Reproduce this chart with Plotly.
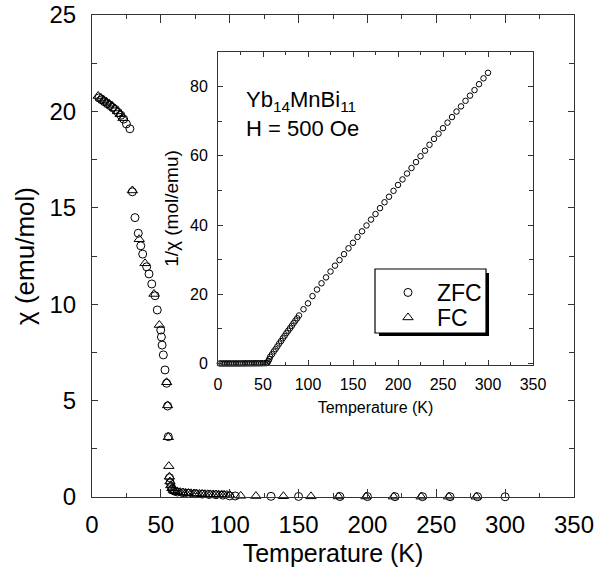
import plotly.graph_objects as go

# ---------------- data ----------------
# main panel: chi vs T
zfc_T = [5, 7, 9, 11, 13, 15, 17, 19, 21, 23, 25, 27.5,
         29.3, 31.2, 33.6, 35.4, 36.8, 39.7, 41.4, 43.4, 45.8, 47.4,
         49.9, 50.4, 50.9, 51.8, 53.0, 54.2, 54.9, 55.4,
         56.3, 56.8, 57.5, 58.5, 60, 62, 66, 70, 75, 80, 85, 90, 95,
         100, 104, 130, 150, 180, 200, 220, 240, 260, 280, 300]
zfc_chi = [20.7, 20.6, 20.5, 20.4, 20.3, 20.2, 20.1, 19.95, 19.8, 19.6, 19.35, 19.1,
           15.83, 14.49, 13.68, 13.03, 12.60, 11.94, 11.57, 11.05, 10.44, 9.70,
           8.66, 8.30, 7.88, 7.37, 6.59, 5.90, 4.72, 3.13,
           1.0, 0.75, 0.55, 0.4, 0.3, 0.26, 0.22, 0.19, 0.17, 0.15, 0.13, 0.12, 0.1,
           0.057, 0.054, 0.036, 0.029, 0.023, 0.020, 0.017, 0.016, 0.014, 0.013, 0.012]

fc_T = [4.5, 6.5, 8.5, 10.5, 12.5, 14.5, 16.5, 18.5, 20.5, 22.5,
        29.3, 34.3, 38.5, 45.0, 48.9, 54.2, 54.9, 55.4,
        55.8, 56.2, 56.6, 57.2, 58, 59, 60, 62, 64, 66, 68, 70, 72, 74, 76, 78,
        80, 82, 84, 86, 88, 90, 92, 94, 96, 98, 100,
        108, 119, 139, 159, 179, 199, 219, 239, 259, 279]
fc_chi = [20.8, 20.7, 20.6, 20.5, 20.4, 20.3, 20.15, 20.0, 19.85, 19.65,
          15.9, 13.37, 12.12, 10.53, 8.92, 5.95, 4.75, 3.1,
          1.6, 1.05, 0.8, 0.6, 0.45, 0.36, 0.3, 0.27, 0.25, 0.23, 0.21, 0.2, 0.19, 0.18, 0.17, 0.16,
          0.15, 0.145, 0.14, 0.135, 0.13, 0.125, 0.12, 0.115, 0.11, 0.105, 0.1,
          0.06, 0.05, 0.04, 0.033, 0.028, 0.024, 0.021, 0.019, 0.017, 0.015]

# inset: 1/chi vs T (ZFC)
inv_T = [2, 4, 6, 8, 10, 12, 14, 16, 18, 20, 22, 24, 26, 28, 30, 32, 34, 36, 38, 40,
         42, 44, 46, 48, 50, 52, 54, 55, 56, 57, 58, 60, 62, 64, 66, 68, 70, 72, 74, 76,
         78, 80, 82, 84, 86, 88, 90, 95, 100, 105, 110, 115, 120, 125, 130, 135, 140,
         145, 150, 155, 160, 165, 170, 175, 180, 185, 190, 195, 200, 205, 210, 215, 220,
         225, 230, 235, 240, 245, 250, 255, 260, 265, 270, 275, 280, 285, 290, 295, 300]
inv_chi = [0.048, 0.048, 0.049, 0.049, 0.049, 0.049, 0.050, 0.050, 0.050, 0.051, 0.051,
           0.052, 0.052, 0.060, 0.066, 0.072, 0.075, 0.079, 0.083, 0.085, 0.088, 0.092,
           0.097, 0.104, 0.115, 0.13, 0.17, 0.3, 0.8, 1.3, 2.0, 2.7, 3.5, 4.2, 5.0, 5.8,
           6.5, 7.3, 8.0, 8.8, 9.5, 10.2, 10.9, 11.7, 12.4, 13.1, 13.9, 15.7, 17.4, 19.5,
           21.4, 23.2, 24.9, 26.6, 28.3, 29.9, 31.6, 33.3, 34.9, 36.6, 38.2, 39.9, 41.6,
           43.2, 44.9, 46.6, 48.2, 49.9, 51.6, 53.2, 54.9, 56.5, 58.2, 59.9, 61.5, 63.2,
           64.9, 66.4, 68.0, 69.6, 71.2, 72.8, 74.3, 75.9, 77.4, 79.0, 80.7, 82.4, 84.0]

main_xticks = [0, 50, 100, 150, 200, 250, 300, 350]
main_yticks = [0, 5, 10, 15, 20, 25]
inset_xticks = [0, 50, 100, 150, 200, 250, 300, 350]
inset_yticks = [0, 20, 40, 60, 80]

# ---------------- figure ----------------
W, H = 597, 569
ML, MR, MT, MB = 92, 23, 15, 72
PW, PH = W - ML - MR, H - MT - MB
FONT = "Liberation Sans, Arial, Helvetica, sans-serif"


def px(xp):
    return (xp - ML) / PW


def py(yp):
    return (H - MB - yp) / PH


fig = go.Figure()

fig.add_trace(go.Scatter(
    x=zfc_T, y=zfc_chi, mode="markers", name="ZFC", legend="legend",
    marker=dict(symbol="circle-open", size=8, color="black", line=dict(width=1)),
    cliponaxis=False, xaxis="x", yaxis="y"))
fig.add_trace(go.Scatter(
    x=fc_T, y=fc_chi, mode="markers", name="FC", legend="legend2",
    marker=dict(symbol="triangle-up-open", size=9, color="black", line=dict(width=1)),
    cliponaxis=False, xaxis="x", yaxis="y"))
fig.add_trace(go.Scatter(
    x=inv_T, y=inv_chi, mode="markers", name="ZFC inset", showlegend=False,
    marker=dict(symbol="circle-open", size=5.5, color="black", line=dict(width=1)),
    cliponaxis=False, xaxis="x2", yaxis="y2"))

axis_common = dict(showline=True, linecolor="#333", linewidth=1, mirror="ticks",
                   ticks="inside", tickcolor="#333", showgrid=False, zeroline=False)

inset_x0, inset_x1 = px(218), px(533)
inset_y0, inset_y1 = py(365), py(52)

fig.update_layout(
    width=W, height=H,
    margin=dict(l=ML, r=MR, t=MT, b=MB, autoexpand=False),
    paper_bgcolor="white", plot_bgcolor="white",
    font=dict(family=FONT, color="black"),
    xaxis=dict(axis_common, domain=[0, 1], range=[0, 350], tickvals=main_xticks,
               ticklen=8, tickwidth=1, tickfont=dict(size=24), ticklabelstandoff=6,
               minor=dict(ticks="inside", ticklen=4, dtick=25, tickcolor="#333"),
               title=dict(text="Temperature (K)", font=dict(size=25), standoff=7),
               anchor="y"),
    yaxis=dict(axis_common, domain=[0, 1], range=[0, 25], tickvals=main_yticks,
               ticklen=6, tickwidth=1, tickfont=dict(size=24), ticklabelstandoff=10,
               minor=dict(ticks="inside", ticklen=5, dtick=2.5, tickcolor="#333"),
               title=dict(text="χ (emu/mol)", font=dict(size=26), standoff=7),
               anchor="x"),
    xaxis2=dict(axis_common, domain=[inset_x0, inset_x1], range=[0, 350],
                tickvals=inset_xticks, ticklen=5, tickfont=dict(size=16), ticklabelstandoff=5,
                minor=dict(ticks="inside", ticklen=3, dtick=25, tickcolor="#333"),
                title=dict(text="Temperature (K)", font=dict(size=16), standoff=9),
                anchor="y2"),
    yaxis2=dict(axis_common, domain=[inset_y0, inset_y1], range=[-0.4, 90],
                tickvals=inset_yticks, ticklen=5, tickfont=dict(size=16), ticklabelstandoff=6,
                minor=dict(ticks="inside", ticklen=4, dtick=10, tickcolor="#333"),
                title=dict(text="1/χ (mol/emu)", font=dict(size=19), standoff=6),
                anchor="x2"),
    legend=dict(x=px(379), y=py(271), xanchor="left", yanchor="top",
                bgcolor="rgba(0,0,0,0)", borderwidth=0, itemwidth=48,
                font=dict(size=23, family=FONT)),
    legend2=dict(x=px(379), y=py(296), xanchor="left", yanchor="top",
                 bgcolor="rgba(0,0,0,0)", borderwidth=0, itemwidth=48,
                 font=dict(size=23, family=FONT)),
    showlegend=True,
)

# legend frame with drop shadow (right and bottom strips)
fig.add_shape(type="rect", xref="paper", yref="paper", layer="above",
              x0=px(375), x1=px(486), y0=py(333), y1=py(269),
              fillcolor="white", line=dict(color="black", width=1.2))
fig.add_shape(type="rect", xref="paper", yref="paper", layer="above",
              x0=px(486), x1=px(489), y0=py(336), y1=py(273),
              fillcolor="black", line=dict(width=0))
fig.add_shape(type="rect", xref="paper", yref="paper", layer="above",
              x0=px(379), x1=px(489), y0=py(336), y1=py(333),
              fillcolor="black", line=dict(width=0))

fig.add_annotation(text="Yb<sub>14</sub>MnBi<sub>11</sub>", xref="paper", yref="paper",
                   x=px(244), y=py(101), xanchor="left", yanchor="middle",
                   showarrow=False, font=dict(size=22, family=FONT))
fig.add_annotation(text="H = 500 Oe", xref="paper", yref="paper",
                   x=px(244), y=py(128), xanchor="left", yanchor="middle",
                   showarrow=False, font=dict(size=22, family=FONT))

fig.write_html("out.html")
